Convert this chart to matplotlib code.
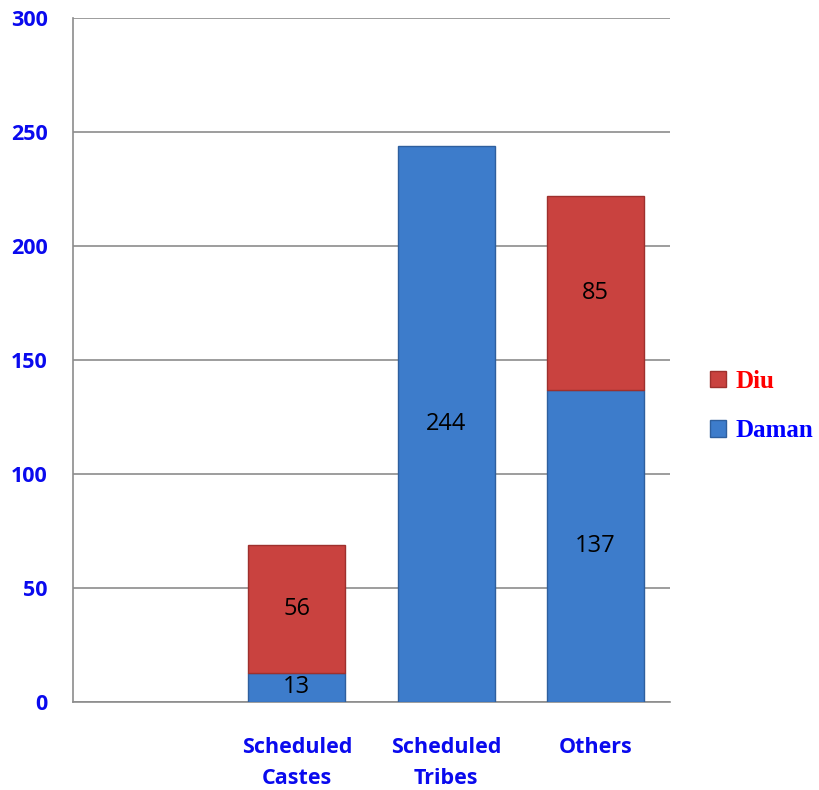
import numpy as np
import matplotlib.pyplot as plt

# categories (first slot is empty in the original chart)
categories = ["", "Scheduled\nCastes", "Scheduled\nTribes", "Others"]
daman = [0, 13, 244, 137]
diu = [0, 56, 0, 85]

fig = plt.figure(figsize=(8.2, 7.9), dpi=100)
ax = fig.add_axes([0.089, 0.111, 0.728, 0.866])

x = np.arange(len(categories))
daman = np.array(daman)
diu = np.array(diu)
blue = "#3D7CCB"
red = "#C9423F"

# only draw non-empty segments so no stray edge lines appear
m1 = daman > 0
m2 = diu > 0
b1 = ax.bar(x[m1], daman[m1], width=0.65, color=blue, edgecolor="#2E5F9E",
            linewidth=1, label="Daman", zorder=3)
b2 = ax.bar(x[m2], diu[m2], width=0.65, bottom=daman[m2], color=red,
            edgecolor="#9E302D", linewidth=1, label="Diu", zorder=3)

# value labels
for i in range(len(categories)):
    if daman[i] > 0:
        ax.text(x[i], daman[i] / 2, str(daman[i]), ha="center", va="center",
                fontsize=17, family="Open Sans", color="black", zorder=4)
    if diu[i] > 0:
        ax.text(x[i], daman[i] + diu[i] / 2, str(diu[i]), ha="center", va="center",
                fontsize=17, family="Open Sans", color="black", zorder=4)

ax.set_xlim(-0.5, 3.5)
ax.set_ylim(0, 300)
ax.set_yticks(range(0, 301, 50))
ax.yaxis.grid(True, color="#8C8C8C", linewidth=1.2, zorder=0)
ax.set_axisbelow(True)

ax.set_xticks(x)
ax.set_xticklabels(categories, linespacing=1.6)
ax.tick_params(length=0)
ax.tick_params(axis="y", pad=18)
ax.tick_params(axis="x", pad=25)
for lab in ax.get_xticklabels() + ax.get_yticklabels():
    lab.set_color("#0A0AEE")
    lab.set_fontweight("bold")
    lab.set_family("Open Sans")
    lab.set_fontsize(15.5)

for s in ["top", "right"]:
    ax.spines[s].set_visible(False)
ax.spines["left"].set_color("#8C8C8C")
ax.spines["left"].set_linewidth(1.2)
ax.spines["bottom"].set_color("#8C8C8C")
ax.spines["bottom"].set_linewidth(1.2)

leg = fig.legend([b2, b1], ["Diu", "Daman"], loc="center left", bbox_to_anchor=(0.866, 0.486),
                 frameon=False, borderpad=0, borderaxespad=0,
                 handlelength=0.65, handleheight=0.65, handletextpad=0.35,
                 labelspacing=1.05, prop={"family": "Liberation Serif", "weight": "bold", "size": 18})
leg.get_texts()[0].set_color("#FF0000")
leg.get_texts()[1].set_color("#0000FF")

fig.savefig("out.png", dpi=100)
